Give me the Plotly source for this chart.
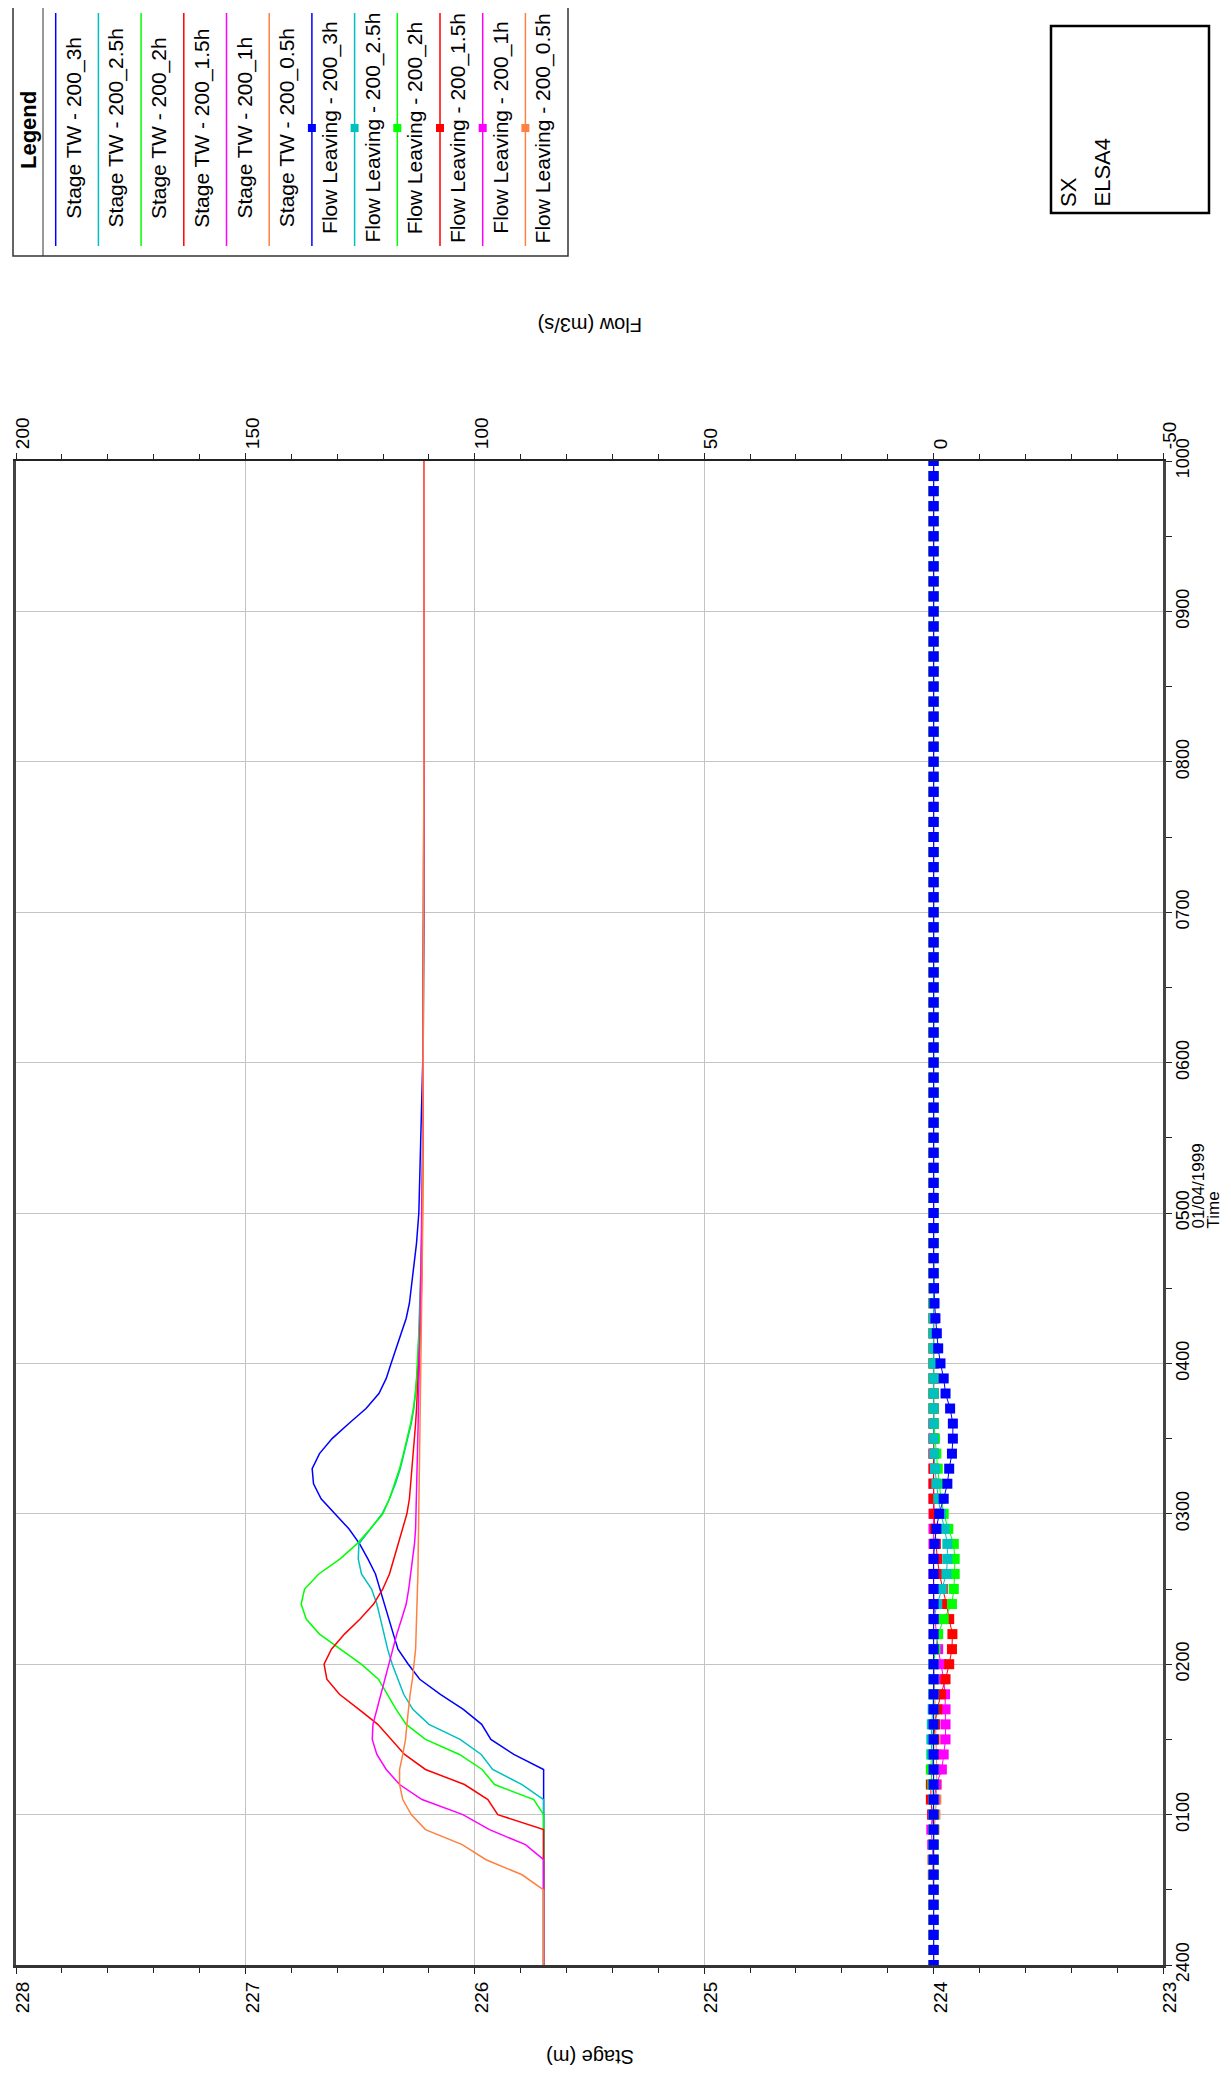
import plotly.graph_objects as go

PAGE_W, PAGE_H = 1231, 2082
BODY = 8  # default page margin around the plot div
W, H = PAGE_W - 2 * BODY, PAGE_H - 2 * BODY

# ---------------- data ----------------
T_STAGE = [0.0, 0.5, 0.6, 0.7, 0.8, 0.9, 1.0, 1.1, 1.2, 1.3, 1.4, 1.5, 1.6, 1.7, 1.8, 1.9,
           2.0, 2.1, 2.2, 2.3, 2.4, 2.5, 2.6, 2.7, 2.8, 2.9, 3.0, 3.1, 3.2, 3.3, 3.4, 3.5,
           3.6, 3.7, 3.8, 3.9, 4.0, 4.1, 4.2, 4.3, 4.4, 4.6, 4.8, 5.0, 5.5, 6.0, 7.0, 8.0, 10.0]

STAGE_3H = [225.70, 225.70, 225.70, 225.70, 225.70, 225.70, 225.70, 225.70, 225.70, 225.70,
            225.83, 225.93, 225.97, 226.05, 226.15, 226.24, 226.29, 226.335, 226.355, 226.375,
            226.394, 226.413, 226.433, 226.466, 226.502, 226.549, 226.611, 226.670, 226.703, 226.709,
            226.677, 226.622, 226.549, 226.474, 226.418, 226.386, 226.365, 226.343, 226.321, 226.299,
            226.285, 226.268, 226.254, 226.244, 226.234, 226.227, 226.223, 226.222, 226.221]
STAGE_2_5H = [225.70, 225.70, 225.70, 225.70, 225.70, 225.70, 225.70, 225.70,
              225.794, 225.922, 225.972, 226.064, 226.200, 226.270, 226.310, 226.335, 226.360, 226.380,
              226.394, 226.411, 226.427, 226.450, 226.494, 226.508, 226.505, 226.456, 226.404, 226.372,
              226.346, 226.325, 226.309, 226.295, 226.277, 226.266, 226.258, 226.253, 226.248, 226.246,
              226.244, 226.241, 226.238,
              226.235, 226.232, 226.230, 226.227, 226.225, 226.223, 226.222, 226.221]
STAGE_2H = [225.70, 225.70, 225.70, 225.70, 225.70, 225.70, 225.70,
            225.743, 225.914, 225.968, 226.067, 226.215, 226.299, 226.343, 226.383, 226.420, 226.495,
            226.585, 226.677, 226.735, 226.757, 226.742, 226.680, 226.587, 226.514, 226.455, 226.401,
            226.372, 226.350, 226.328, 226.311, 226.295, 226.280, 226.268, 226.258, 226.254, 226.250,
            226.246, 226.242, 226.239, 226.237,
            226.234, 226.231, 226.229, 226.226, 226.224, 226.223, 226.222, 226.221]
STAGE_1_5H = [225.70, 225.70, 225.70, 225.70, 225.70, 225.70,
              225.900, 225.943, 226.045, 226.215, 226.306, 226.365, 226.423, 226.505, 226.590, 226.645,
              226.657, 226.625, 226.568, 226.500, 226.441, 226.401, 226.372, 226.353, 226.333, 226.314,
              226.296, 226.285, 226.279, 226.273, 226.268, 226.263, 226.258, 226.254, 226.250, 226.247,
              226.244, 226.241, 226.239, 226.236, 226.234,
              226.231, 226.229, 226.228, 226.226, 226.224, 226.223, 226.222, 226.221]
STAGE_1H = [225.70, 225.70, 225.70, 225.70,
            225.779, 225.936, 226.052, 226.230, 226.328, 226.386, 226.427, 226.447, 226.444, 226.427,
            226.408, 226.390, 226.373, 226.358, 226.340, 226.319, 226.299, 226.288, 226.280, 226.270,
            226.263, 226.258, 226.256, 226.254, 226.252, 226.250, 226.249, 226.248, 226.247, 226.246,
            226.244, 226.243, 226.242, 226.240, 226.239, 226.238, 226.237,
            226.234, 226.232, 226.230, 226.227, 226.225, 226.223, 226.222, 226.221]
STAGE_0_5H = [225.70, 225.70,
              225.794, 225.951, 226.055, 226.215, 226.277, 226.314, 226.328, 226.328, 226.314, 226.302,
              226.296, 226.290, 226.282, 226.272, 226.265, 226.258, 226.256, 226.253, 226.251, 226.250,
              226.248, 226.247, 226.246, 226.245, 226.244, 226.243, 226.241, 226.240, 226.239, 226.238,
              226.237, 226.236, 226.235, 226.234, 226.233, 226.232, 226.231, 226.231, 226.230,
              226.229, 226.228, 226.227, 226.226, 226.224, 226.223, 226.222, 226.221]

T_FLOW = [round(i * 0.1, 1) for i in range(101)]  # 6-minute time steps 0000..1000

FLOW_3H = [0, 0, 0, 0, 0, 0, 0, 0, 0, 0,
           0, 0, 0, 0, 0, 0, 0, 0, 0, 0,
           0, 0, 0, 0, 0, 0, 0, 0, -0.2, -0.6,
           -1.2, -2.2, -3.0, -3.4, -4.0, -4.2, -4.2, -3.6, -2.6, -2.2,
           -1.5, -1.0, -0.7, -0.4, -0.2, -0.1, 0, 0, 0, 0,
           0, 0, 0, 0, 0, 0, 0, 0, 0, 0,
           0, 0, 0, 0, 0, 0, 0, 0, 0, 0,
           0, 0, 0, 0, 0, 0, 0, 0, 0, 0,
           0, 0, 0, 0, 0, 0, 0, 0, 0, 0,
           0, 0, 0, 0, 0, 0, 0, 0, 0, 0,
           0]
FLOW_2_5H = [0, 0, 0, 0, 0, 0, 0, 0, 0, 0,
             0, 0, 0, 0, 0.4, 0.5, 0.4, 0.2, 0, 0,
             0, 0, 0, 0, -0.8, -1.8, -2.8, -3.0, -3.0, -2.4,
             -1.6, -1.0, -0.6, -0.3, -0.1, 0, 0, 0, 0, 0,
             0, 0, 0, 0, 0, 0, 0, 0, 0, 0,
             0, 0, 0, 0, 0, 0, 0, 0, 0, 0,
             0, 0, 0, 0, 0, 0, 0, 0, 0, 0,
             0, 0, 0, 0, 0, 0, 0, 0, 0, 0,
             0, 0, 0, 0, 0, 0, 0, 0, 0, 0,
             0, 0, 0, 0, 0, 0, 0, 0, 0, 0,
             0]
FLOW_2H = [0, 0, 0, 0, 0, 0, 0, 0, 0, 0,
           0, 0, 0.3, 0.6, 0.5, 0.2, 0, 0, 0, 0,
           0, -0.4, -1.0, -2.2, -4.0, -4.4, -4.6, -4.6, -4.4, -3.2,
           -2.2, -1.6, -1.2, -0.9, -0.6, -0.3, -0.1, 0, 0, 0,
           0, 0, 0, 0, 0, 0, 0, 0, 0, 0,
           0, 0, 0, 0, 0, 0, 0, 0, 0, 0,
           0, 0, 0, 0, 0, 0, 0, 0, 0, 0,
           0, 0, 0, 0, 0, 0, 0, 0, 0, 0,
           0, 0, 0, 0, 0, 0, 0, 0, 0, 0,
           0, 0, 0, 0, 0, 0, 0, 0, 0, 0,
           0]
FLOW_1_5H = [0, 0, 0, 0, 0, 0, 0, 0, 0, 0,
             0.3, 0.6, 0.6, 0.3, 0, 0, -0.3, -0.8, -1.6, -2.6,
             -3.4, -4.0, -4.1, -3.4, -2.8, -2.0, -1.3, -0.8, -0.5, -0.3,
             -0.1, 0, 0, 0, 0, 0, 0, 0, 0, 0,
             0, 0, 0, 0, 0, 0, 0, 0, 0, 0,
             0, 0, 0, 0, 0, 0, 0, 0, 0, 0,
             0, 0, 0, 0, 0, 0, 0, 0, 0, 0,
             0, 0, 0, 0, 0, 0, 0, 0, 0, 0,
             0, 0, 0, 0, 0, 0, 0, 0, 0, 0,
             0, 0, 0, 0, 0, 0, 0, 0, 0, 0,
             0]
FLOW_1H = [0, 0, 0, 0, 0, 0, 0, 0, 0.3, 0.5,
           0.3, -0.2, -0.6, -1.8, -2.2, -2.6, -2.6, -2.6, -2.5, -2.2,
           -1.6, -1.0, -0.6, -0.3, -0.1, 0, 0, 0, 0, 0,
           0, 0, 0, 0, 0, 0, 0, 0, 0, 0,
           0, 0, 0, 0, 0, 0, 0, 0, 0, 0,
           0, 0, 0, 0, 0, 0, 0, 0, 0, 0,
           0, 0, 0, 0, 0, 0, 0, 0, 0, 0,
           0, 0, 0, 0, 0, 0, 0, 0, 0, 0,
           0, 0, 0, 0, 0, 0, 0, 0, 0, 0,
           0, 0, 0, 0, 0, 0, 0, 0, 0, 0,
           0]
FLOW_0_5H = [0, 0, 0, 0, 0, 0, 0.2, 0.3, 0.1, -0.2,
             -0.4, -0.6, -0.7, -0.7, -0.6, -0.5, -0.4, -0.3, -0.2, -0.1,
             0, 0, 0, 0, 0, 0, 0, 0, 0, 0,
             0, 0, 0, 0, 0, 0, 0, 0, 0, 0,
             0, 0, 0, 0, 0, 0, 0, 0, 0, 0,
             0, 0, 0, 0, 0, 0, 0, 0, 0, 0,
             0, 0, 0, 0, 0, 0, 0, 0, 0, 0,
             0, 0, 0, 0, 0, 0, 0, 0, 0, 0,
             0, 0, 0, 0, 0, 0, 0, 0, 0, 0,
             0, 0, 0, 0, 0, 0, 0, 0, 0, 0,
             0]

RUNS = ["200_3h", "200_2.5h", "200_2h", "200_1.5h", "200_1h", "200_0.5h"]
COLORS = ["#0000ff", "#00c0c0", "#00ff00", "#ff0000", "#ff00ff", "#ff8040"]
STAGES = [STAGE_3H, STAGE_2_5H, STAGE_2H, STAGE_1_5H, STAGE_1H, STAGE_0_5H]
FLOWS = [FLOW_3H, FLOW_2_5H, FLOW_2H, FLOW_1_5H, FLOW_1H, FLOW_0_5H]

TIME_TICKS = [0, 1, 2, 3, 4, 5, 6, 7, 8, 9, 10]
TIME_LABELS = ["2400", "0100", "0200", "0300", "0400", "0500", "0600", "0700", "0800", "0900", "1000"]
STAGE_TICKS = [223, 224, 225, 226, 227, 228]
FLOW_TICKS = [-50, 0, 50, 100, 150, 200]

FONT = "Arial, Liberation Sans, sans-serif"
NARROW = "Liberation Sans Narrow, Arial Narrow, Liberation Sans, Arial, sans-serif"


def px(x):
    """page pixel x -> paper fraction"""
    return (x - BODY) / W


def py(y):
    """page pixel y -> paper fraction"""
    return 1 - (y - BODY) / H


fig = go.Figure()

# stage lines (left axis in the original -> bottom axis here)
for name, col, s in zip(RUNS, COLORS, STAGES):
    fig.add_trace(go.Scatter(x=s, y=T_STAGE, mode="lines", name="Stage TW - " + name,
                             line=dict(color=col, width=1.5), xaxis="x", yaxis="y",
                             showlegend=False))

# flow lines with markers; 3h drawn last (on top)
for name, col, f in reversed(list(zip(RUNS, COLORS, FLOWS))):
    fig.add_trace(go.Scatter(x=f, y=T_FLOW, mode="lines+markers", name="Flow Leaving - " + name,
                             line=dict(color=col, width=1),
                             marker=dict(symbol="square", size=10, color=col),
                             xaxis="x2", yaxis="y", showlegend=False))

X0, X1 = 16, 1163
Y0, Y1 = 461, 1965

fig.update_layout(
    width=W, height=H,
    margin=dict(l=0, r=0, t=0, b=0, pad=0, autoexpand=False),
    paper_bgcolor="white", plot_bgcolor="white",
    font=dict(family=FONT, color="black"),
    showlegend=False,
    xaxis=dict(domain=[px(X0), px(X1)], range=[228, 223], tickmode="array",
               tickvals=STAGE_TICKS, ticktext=[str(v) for v in STAGE_TICKS],
               tickangle=-90, tickfont=dict(size=19, family=FONT), automargin=False,
               ticklabeloverflow="allow", ticklabelshift=-7,
               ticks="outside", ticklen=6, tickcolor="#222",
               minor=dict(dtick=0.2, tick0=223, ticks="outside", ticklen=5, tickcolor="#222",
                          showgrid=False),
               showgrid=True, gridcolor="#c4c4c4", gridwidth=1, zeroline=False,
               showline=True, linecolor="#333", linewidth=3, anchor="y", side="bottom"),
    xaxis2=dict(domain=[px(X0), px(X1)], range=[200, -50], overlaying="x", side="top",
                anchor="y", tickmode="array", tickvals=FLOW_TICKS, automargin=False,
                ticklabeloverflow="allow", ticklabelshift=-7,
                ticktext=[str(v) for v in FLOW_TICKS], tickangle=-90,
                tickfont=dict(size=19, family=FONT),
                ticks="outside", ticklen=6, tickcolor="#222",
                minor=dict(dtick=10, tick0=0, ticks="outside", ticklen=5, tickcolor="#222",
                           showgrid=False),
                showgrid=False, zeroline=False, showline=True, linecolor="#222", linewidth=2),
    yaxis=dict(domain=[py(Y1), py(Y0)], range=[0, 10], side="right", anchor="x",
               tickmode="array", tickvals=TIME_TICKS, ticktext=TIME_LABELS, tickangle=-90,
               tickfont=dict(size=18, family=NARROW), automargin=False,
               ticklabeloverflow="allow", ticklabelstandoff=-5,
               ticks="outside", ticklen=6, tickcolor="#222",
               minor=dict(dtick=0.5, tick0=0, ticks="outside", ticklen=6, tickcolor="#222",
                          showgrid=False),
               showgrid=True, gridcolor="#c4c4c4", gridwidth=1, zeroline=False,
               showline=True, mirror=True, linecolor="#444", linewidth=3),
)

ann = []
shapes = []


def label(text, x, y, size, angle, family=FONT, xa="center", ya="middle"):
    ann.append(dict(text=text, x=px(x), y=py(y), xref="paper", yref="paper",
                    showarrow=False, textangle=angle, xanchor=xa, yanchor=ya,
                    font=dict(size=size, family=family, color="black")))


# axis titles (upside down because the whole chart is turned)
label("Stage (m)", 590, 2057, 20, 180, NARROW)
label("Flow (m3/s)", 590, 325, 20, 180, NARROW)
label("01/04/1999", 1198, 1231, 17, -90, NARROW, ya="bottom")
label("Time", 1213, 1231, 17, -90, NARROW, ya="bottom")

# legend box
LX0, LX1, LY0, LY1 = 13, 568, 4, 256
shapes.append(dict(type="rect", xref="paper", yref="paper", x0=px(LX0), x1=px(LX1),
                   y0=py(LY1), y1=py(LY0), line=dict(color="#333", width=1.5)))
shapes.append(dict(type="line", xref="paper", yref="paper", x0=px(43), x1=px(43),
                   y0=py(LY1), y1=py(LY0), line=dict(color="#333", width=1)))
label("<b>Legend</b>", 28, 130, 22, -90)

labels = ["Stage TW - " + r for r in RUNS] + ["Flow Leaving - " + r for r in RUNS]
cols = COLORS + COLORS
for i, (lab, col) in enumerate(zip(labels, cols)):
    lx = 55.7 + 42.7 * i
    shapes.append(dict(type="line", xref="paper", yref="paper", x0=px(lx), x1=px(lx),
                       y0=py(246), y1=py(13), line=dict(color=col, width=1.5)))
    if i >= 6:
        shapes.append(dict(type="rect", xref="paper", yref="paper", x0=px(lx - 4), x1=px(lx + 4),
                           y0=py(132), y1=py(124), fillcolor=col, line=dict(width=0)))
    label(lab, lx + 18, 128, 21, -90)

# SX / ELSA4 box
shapes.append(dict(type="rect", xref="paper", yref="paper", x0=px(1051), x1=px(1209),
                   y0=py(213), y1=py(26), line=dict(color="black", width=2.5)))
label("SX", 1069, 209, 22, -90, ya="bottom")
label("ELSA4", 1102, 209, 22, -90, ya="bottom")

fig.update_layout(annotations=ann, shapes=shapes)

fig.write_html("out.html")
